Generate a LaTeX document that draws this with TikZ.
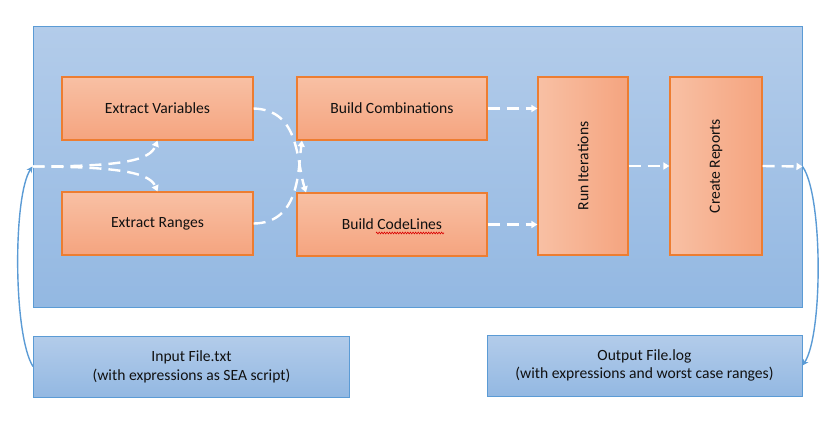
\documentclass[tikz,border=0pt]{standalone}
\usepackage{fontspec}
\usepackage{graphicx}
\setmainfont{Carlito}
\usetikzlibrary{arrows.meta,decorations.pathmorphing}
\definecolor{bluetop}{HTML}{B3CCEA}
\definecolor{bluebot}{HTML}{93B8E2}
\definecolor{blueline}{HTML}{5B9BD5}
\definecolor{orglight}{HTML}{F8C0A4}
\definecolor{orgdark}{HTML}{F5A47F}
\definecolor{orgline}{HTML}{ED7D31}
\definecolor{txt}{HTML}{111111}
\tikzset{
  bluebox/.style={draw=blueline, line width=1pt, top color=bluetop, bottom color=bluebot, inner sep=0pt, text=txt, align=center},
  orgbox/.style={draw=orgline, line width=1.2pt, top color=orglight, bottom color=orgdark, inner sep=0pt, text=txt, align=center},
  orgvbox/.style={draw=orgline, line width=1.2pt, left color=orglight, right color=orgdark, inner sep=0pt, text=txt, align=center},
  flow/.style={white, line width=2.4pt, dash pattern=on 12pt off 7pt, -{Triangle[width=7pt,length=6pt]}},
  loop/.style={blueline, line width=1.4pt, -{Stealth[width=6pt,length=6pt]}},
}
\begin{document}
\begin{tikzpicture}[x=1pt,y=-1pt, every node/.style={font=\fontsize{15.6}{18.7}\selectfont}]
\useasboundingbox (0,0) rectangle (835,424);
\node[bluebox, minimum width=769pt, minimum height=281pt] (main) at (417.5,166.5) {};
\node[orgbox, minimum width=191pt, minimum height=63pt] (ev) at (157.5,108.5) {Extract Variables};
\node[orgbox, minimum width=191pt, minimum height=63pt] (er) at (157.5,223.5) {Extract Ranges};
\node[orgbox, minimum width=190pt, minimum height=63pt] (bc) at (392,108.5) {Build Combinations};
\node[orgbox, minimum width=190pt, minimum height=63pt] (bcl) at (392,224.5) {Build CodeLines};
\node[orgvbox, minimum width=90pt, minimum height=178pt] (ri) at (583,166) {\rotatebox{90}{Run Iterations}};
\node[orgvbox, minimum width=92pt, minimum height=178pt] (cr) at (716,166) {\rotatebox{90}{Create Reports}};
\node[bluebox, minimum width=316pt, minimum height=61pt] (in) at (191.5,366.5) {Input File.txt\\(with expressions as SEA script)};
\node[bluebox, minimum width=315pt, minimum height=61pt] (out) at (644.5,365.5) {Output File.log\\(with expressions and worst case ranges)};
% spell-check squiggle
\coordinate (sqa) at (376,233);
\coordinate (sqb) at (444,233);
\draw[red!85!black, line width=0.6pt, decorate, decoration={zigzag, amplitude=0.9pt, segment length=2.6pt}] (sqa) -- (sqb);
% flows
\draw[flow] (main.west) .. controls (125,166.5) and (150,160) .. (ev.south);
\draw[flow] (main.west) .. controls (125,166.5) and (150,174) .. (er.north);
\draw[flow] (ev.east) .. controls (300,110) and (296,160) .. ([xshift=-86pt]bcl.north);
\draw[flow] (er.east) .. controls (300,223) and (298,170) .. ([xshift=-90pt]bc.south);
\draw[flow] (bc.east) -- (bc.east -| ri.west);
\draw[flow] (bcl.east) -- (bcl.east -| ri.west);
\draw[flow] (ri.east) -- (cr.west);
\draw[flow] (cr.east) -- (main.east);
\draw[loop] (main.east) .. controls (823,195) and (823,335) .. (out.east);
\draw[loop] (in.west) .. controls (13,335) and (13,195) .. (main.west);
\end{tikzpicture}
\end{document}
